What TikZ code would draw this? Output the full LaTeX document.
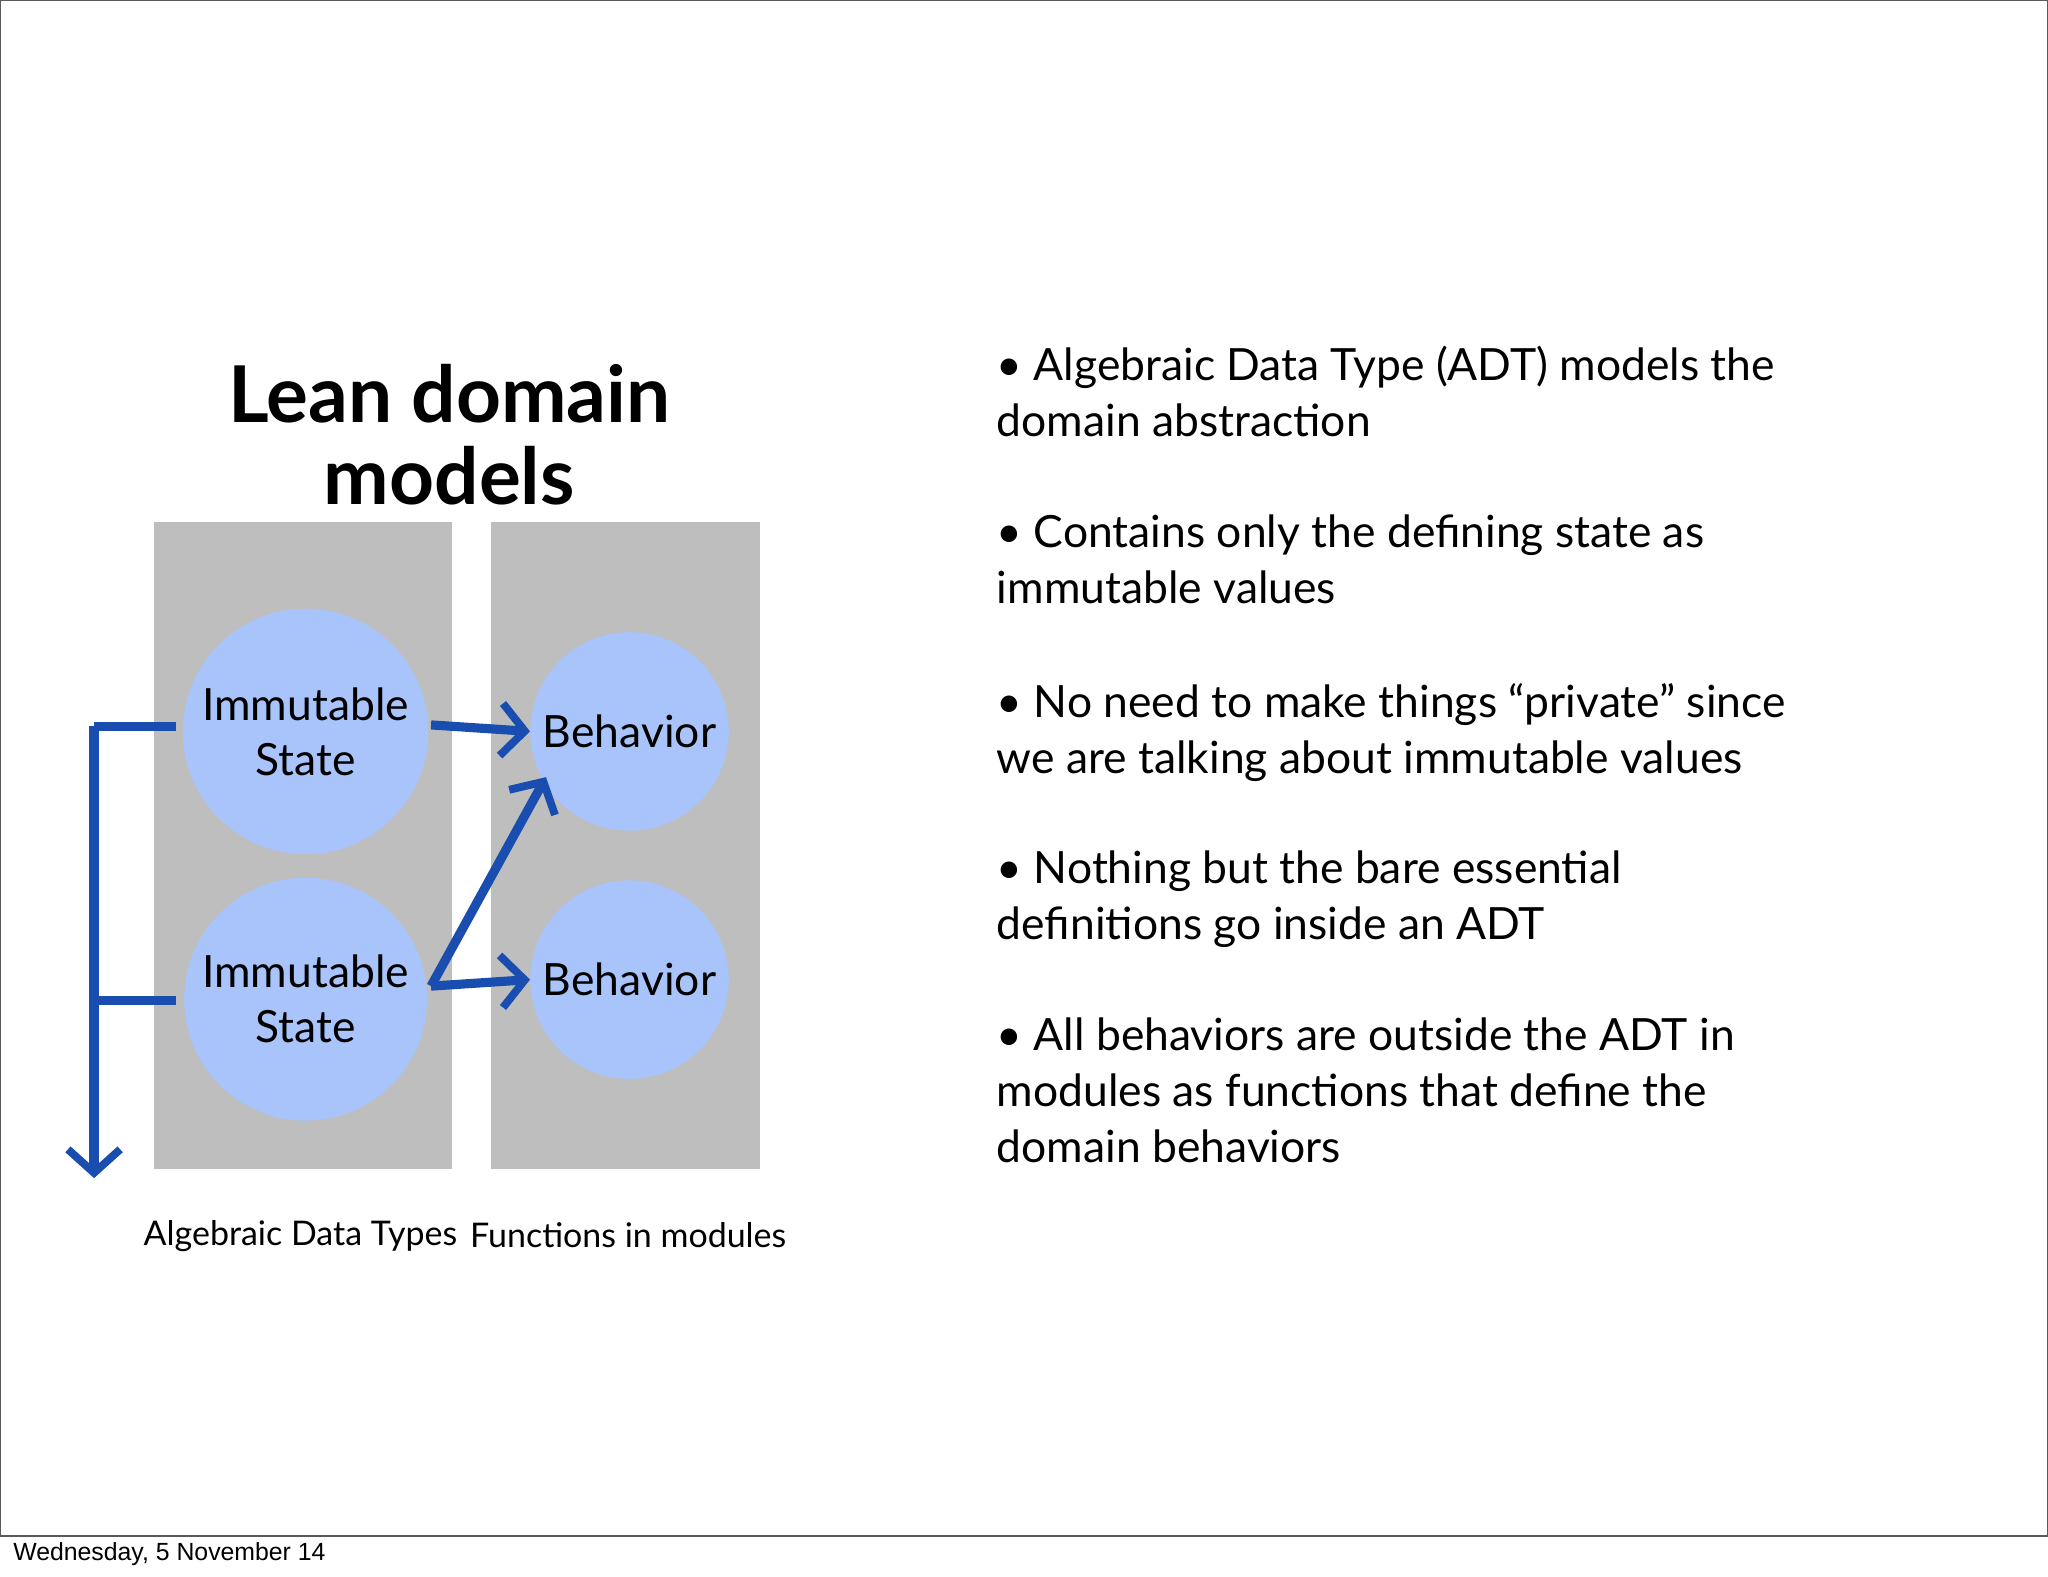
\documentclass[tikz,border=0pt]{standalone}
\usepackage{fontspec}
\setmainfont{Lato}
\newfontfamily\foot{Liberation Sans}
\usetikzlibrary{arrows.meta}
\definecolor{gbox}{HTML}{BEBEBE}
\definecolor{cblue}{HTML}{A8C4FA}
\definecolor{ablue}{HTML}{1A4DB0}
\tikzset{
 gray box/.style={fill=gbox,draw=none},
 circ/.style={circle,fill=cblue,draw=none,align=center,font=\fontsize{34}{42}\selectfont,inner sep=0pt},
 harrow/.style={draw=ablue,line width=7pt,-{Straight Barb[length=18pt,width=40pt,line width=6pt]}},
 hline/.style={draw=ablue,line width=7pt},
 bullet/.style={anchor=north west,align=left,font=\fontsize{34}{43}\selectfont,inner sep=0pt},
}
\begin{document}
\begin{tikzpicture}[x=1pt,y=-1pt]
\useasboundingbox (0,0) rectangle (1568,1207);
\fill[white] (0,0) rectangle (1568,1207);
\draw[line width=1pt,gray!70!black] (0,0) rectangle (1568,1176);
\node[anchor=west,font=\foot\fontsize{19}{21}\selectfont,inner sep=0pt] (foot) at (10,1190) {Wednesday, 5 November 14};
\node[align=center,font=\fontsize{60}{63}\selectfont\bfseries] (title) at (344,333) {Lean domain\\models};
\fill[gray box] (118,400) rectangle (346,895);
\fill[gray box] (376,400) rectangle (582,895);
\node[circ,minimum size=188pt] (s1) at (234,560) {Immutable\\State};
\node[circ,minimum size=186pt] (s2) at (234,765) {Immutable\\State};
\node[circ,minimum size=152pt] (b1) at (482,560) {Behavior};
\node[circ,minimum size=152pt] (b2) at (482,750) {Behavior};
\coordinate (l1) at (135,556);
\coordinate (c1) at (72,556);
\coordinate (l2) at (135,766);
\coordinate (c2) at (72,766);
\coordinate (bot) at (72,902);
\draw[hline] (l1) -- (c1);
\draw[harrow] (c1) -- (bot);
\draw[hline] (l2) -- (c2);
\coordinate (a1) at (330,555);
\coordinate (a2) at (330,755);
\draw[harrow] (a1) -- (b1.west);
\draw[harrow] (a2) -- (b2.west);
\draw[harrow] (a2) -- (418,595);
\node[font=\fontsize{26}{30}\selectfont] (lab1) at (230,946) {Algebraic Data Types};
\node[font=\fontsize{26}{30}\selectfont] (lab2) at (481,946) {Functions in modules};
\node[bullet] (p1) at (763,265) {• Algebraic Data Type (ADT) models the\\domain abstraction};
\node[bullet] (p2) at (763,394) {• Contains only the defining state as\\immutable values};
\node[bullet] (p3) at (763,523) {• No need to make things “private” since\\we are talking about immutable values};
\node[bullet] (p4) at (763,651) {• Nothing but the bare essential\\definitions go inside an ADT};
\node[bullet] (p5) at (763,779) {• All behaviors are outside the ADT in\\modules as functions that define the\\domain behaviors};
\end{tikzpicture}
\end{document}
